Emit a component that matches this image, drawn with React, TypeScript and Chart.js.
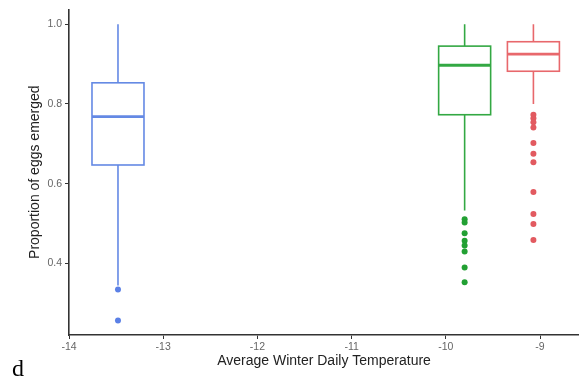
import React, { useEffect, useRef } from "react";
import { Chart, registerables } from "chart.js";

Chart.register(...registerables);

// ---- data ----
const TEMPERATURES = [-13.48, -9.8, -9.07];
const WHISKER_LOW = [0.345, 0.533, 0.8];
const Q1 = [0.647, 0.773, 0.882];
const MEDIAN = [0.768, 0.897, 0.925];
const Q3 = [0.853, 0.945, 0.956];
const WHISKER_HIGH = [1.0, 1.0, 1.0];
const OUTLIERS_BLUE = [0.335, 0.257];
const OUTLIERS_GREEN = [0.511, 0.503, 0.476, 0.457, 0.445, 0.43, 0.39, 0.353];
const OUTLIERS_RED = [0.773, 0.764, 0.754, 0.741, 0.702, 0.675, 0.654, 0.579, 0.524, 0.499, 0.459];
const X_TICKS = [-14, -13, -12, -11, -10, -9];
const Y_TICKS = [0.4, 0.6, 0.8, 1.0];

const BOX_COLORS = ["#6489E4", "#33A843", "#E8686C"];
const DOT_COLORS = ["#5B80E6", "#22A033", "#E25A60"];
const BOX_HALF_WIDTH = 0.276;

const boxPlugin = {
  id: "boxplots",
  afterDatasetsDraw(chart: any) {
    const { ctx } = chart;
    const x = chart.scales.x;
    const y = chart.scales.y;
    TEMPERATURES.forEach((t, i) => {
      const cx = x.getPixelForValue(t);
      const left = x.getPixelForValue(t - BOX_HALF_WIDTH);
      const right = x.getPixelForValue(t + BOX_HALF_WIDTH);
      const yq1 = y.getPixelForValue(Q1[i]);
      const yq3 = y.getPixelForValue(Q3[i]);
      const ymed = y.getPixelForValue(MEDIAN[i]);
      const ylo = y.getPixelForValue(WHISKER_LOW[i]);
      const yhi = y.getPixelForValue(WHISKER_HIGH[i]);
      ctx.save();
      ctx.strokeStyle = BOX_COLORS[i];
      ctx.lineWidth = 1.6;
      ctx.beginPath();
      ctx.moveTo(cx, yhi);
      ctx.lineTo(cx, yq3);
      ctx.moveTo(cx, yq1);
      ctx.lineTo(cx, ylo);
      ctx.stroke();
      ctx.strokeRect(left, yq3, right - left, yq1 - yq3);
      ctx.lineWidth = 2.8;
      ctx.beginPath();
      ctx.moveTo(left, ymed);
      ctx.lineTo(right, ymed);
      ctx.stroke();
      ctx.restore();
    });
  },
};

export default function App() {
  const ref = useRef<HTMLCanvasElement>(null);
  useEffect(() => {
    document.body.style.margin = "0";
    document.body.style.overflow = "hidden";
    const outlierSets = [OUTLIERS_BLUE, OUTLIERS_GREEN, OUTLIERS_RED];
    const chart = new Chart(ref.current!, {
      type: "scatter",
      data: {
        datasets: outlierSets.map((vals, i) => ({
          data: vals.map((v) => ({ x: TEMPERATURES[i], y: v })),
          backgroundColor: DOT_COLORS[i],
          borderColor: DOT_COLORS[i],
          pointRadius: 3,
          borderWidth: 0,
        })),
      },
      options: {
        animation: false,
        responsive: false,
        maintainAspectRatio: false,
        layout: { padding: { top: 7, right: 0, left: 0, bottom: 0 } },
        plugins: { legend: { display: false }, tooltip: { enabled: false } },
        scales: {
          x: {
            type: "linear",
            min: -14,
            max: -8.586,
            afterBuildTicks: (s: any) => {
              s.ticks = X_TICKS.map((v) => ({ value: v }));
            },
            afterFit: (s: any) => {
              s.height = 46;
              s.paddingLeft = 0;
              s.paddingRight = 0;
            },
            grid: { drawOnChartArea: false, drawTicks: true, tickLength: 4, color: "#333" },
            border: { display: true, color: "#333", width: 1.6 },
            ticks: {
              color: "#666",
              padding: 2,
              font: { family: "'Liberation Sans', Arial, sans-serif", size: 10.5 },
              callback: (v: any) => String(v),
            },
            title: {
              display: true,
              text: "Average Winter Daily Temperature",
              color: "#222",
              font: { family: "'Liberation Sans', Arial, sans-serif", size: 14 },
              padding: { top: 0, bottom: 11.6 },
            },
          },
          y: {
            type: "linear",
            min: 0.2208,
            max: 1.0373,
            afterBuildTicks: (s: any) => {
              s.ticks = Y_TICKS.map((v) => ({ value: v }));
            },
            afterFit: (s: any) => {
              s.width = 69;
            },
            grid: { drawOnChartArea: false, drawTicks: true, tickLength: 4, color: "#333" },
            border: { display: true, color: "#333", width: 1.6 },
            ticks: {
              color: "#666",
              padding: 3,
              font: { family: "'Liberation Sans', Arial, sans-serif", size: 10.5 },
              callback: (v: any) => Number(v).toFixed(1),
            },
            title: {
              display: true,
              text: "Proportion of eggs emerged",
              color: "#222",
              font: { family: "'Liberation Sans', Arial, sans-serif", size: 14 },
              padding: { top: 26.6, bottom: 0 },
            },
          },
        },
      },
      plugins: [boxPlugin],
    });
    return () => chart.destroy();
  }, []);
  return (
    <div style={{ position: "relative", width: 579, height: 381, background: "#fff", overflow: "hidden" }}>
      <canvas ref={ref} width={583} height={381} style={{ display: "block", width: 583, height: 381 }} />
      <div
        style={{
          position: "absolute",
          left: 12,
          top: 353,
          fontFamily: "'Liberation Serif', 'Times New Roman', serif",
          fontSize: 24,
          lineHeight: "30px",
          color: "#000",
        }}
      >
        d
      </div>
    </div>
  );
}
